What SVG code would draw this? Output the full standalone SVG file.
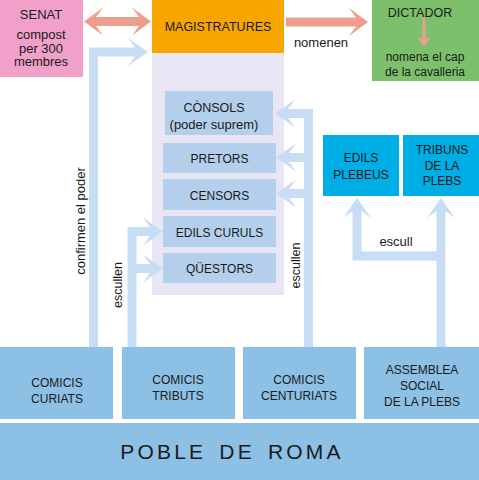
<svg xmlns="http://www.w3.org/2000/svg" width="479" height="480" viewBox="0 0 479 480">
<style>
text{font-family:"Liberation Sans",Arial,sans-serif;fill:#1a1a1a;text-anchor:middle}
.cap{font-size:12px}
.big{font-size:12.5px}
.low{font-size:13px}
.inner{fill:#b3cfeb}
.bottom{fill:#8cc1e5}
.cyan{fill:#00aee6}
.conn{fill:none;stroke:#c6ddf3;stroke-width:9;stroke-linejoin:miter}
.sal{fill:none;stroke:#ef9e8d;stroke-width:9}
</style>
<defs>
<marker id="hb" markerUnits="userSpaceOnUse" markerWidth="22" markerHeight="30" viewBox="0 0 22 30" refX="10" refY="15" orient="auto">
<path d="M22,15 L2,1 L9,10.5 L9,19.5 L2,29 Z" fill="#c6ddf3"/>
</marker>
<marker id="hs" markerUnits="userSpaceOnUse" markerWidth="22" markerHeight="30" viewBox="0 0 22 30" refX="10" refY="15" orient="auto-start-reverse">
<path d="M22,15 L3,1 L10,10.5 L10,19.5 L3,29 Z" fill="#ef9e8d"/>
</marker>
</defs>
<rect width="479" height="480" fill="#ffffff"/>

<g id="senat">
<rect x="0" y="0" width="83" height="77" fill="#f1a1c9"/>
<text class="low" x="41" y="19">SENAT</text>
<text class="low" x="41" y="39">compost</text>
<text class="low" x="41" y="52.5">per 300</text>
<text class="low" x="41" y="66">membres</text>
</g>

<g id="magistratures-panel">
<rect x="152" y="53" width="132" height="242" fill="#e8e5f4"/>
</g>

<g id="magistratures">
<rect x="152" y="0" width="132" height="53" fill="#f7a600"/>
<text class="big" x="218" y="31">MAGISTRATURES</text>
</g>

<g id="dictador">
<rect x="372" y="0" width="107" height="81" fill="#7dc06b"/>
<text class="big" x="420" y="17">DICTADOR</text>
<line x1="424" y1="18" x2="424" y2="41" stroke="#ef9e8d" stroke-width="3"/>
<path d="M424,47 L417,36 L424,40 L431,36 Z" fill="#ef9e8d"/>
<text class="cap" x="425" y="61">nomena el cap</text>
<text class="cap" x="425" y="76">de la cavalleria</text>
</g>

<g id="consols">
<rect class="inner" x="165" y="91" width="108" height="44"/>
<text class="big" x="214" y="112">CÒNSOLS</text>
<text class="low" x="214" y="129">(poder suprem)</text>
</g>
<g id="pretors">
<rect class="inner" x="163" y="143" width="113" height="30"/>
<text class="cap" x="219.5" y="163">PRETORS</text>
</g>
<g id="censors">
<rect class="inner" x="163" y="179" width="113" height="31"/>
<text class="cap" x="219.5" y="200">CENSORS</text>
</g>
<g id="edils-curuls">
<rect class="inner" x="163" y="216" width="113" height="31"/>
<text class="cap" x="219.5" y="237">EDILS CURULS</text>
</g>
<g id="questors">
<rect class="inner" x="163" y="253" width="113" height="30"/>
<text class="cap" x="219.5" y="273">QÜESTORS</text>
</g>

<g id="edils-plebeus">
<rect class="cyan" x="323" y="135" width="76" height="61"/>
<text class="cap" x="361" y="162">EDILS</text>
<text class="cap" x="361" y="179">PLEBEUS</text>
</g>
<g id="tribuns">
<rect class="cyan" x="403" y="135" width="76" height="61"/>
<text class="cap" x="442" y="154">TRIBUNS</text>
<text class="cap" x="442" y="170">DE LA</text>
<text class="cap" x="442" y="185">PLEBS</text>
</g>

<g id="connectors">
<path class="sal" d="M96,21.5 H139" marker-start="url(#hs)" marker-end="url(#hs)"/>
<path class="sal" d="M286,22 H356" marker-end="url(#hs)"/>
<text class="low" x="321" y="47">nomenen</text>

<path class="conn" d="M93.5,347 V52 H136" marker-end="url(#hb)"/>
<text class="low" transform="translate(85,221) rotate(-90)">confirmen el poder</text>

<path class="conn" d="M132,347 V231.5 H151" marker-end="url(#hb)"/>
<path class="conn" d="M132,268.5 H151" marker-end="url(#hb)"/>
<text class="big" transform="translate(122,285) rotate(-90)">escullen</text>

<path class="conn" d="M308.5,347 V113.5 H287" marker-end="url(#hb)"/>
<path class="conn" d="M308.5,157.5 H288" marker-end="url(#hb)"/>
<path class="conn" d="M308.5,193.5 H288" marker-end="url(#hb)"/>
<text class="big" transform="translate(300,265.5) rotate(-90)">escullen</text>

<path class="conn" d="M441,347 V210" marker-end="url(#hb)"/>
<path class="conn" d="M441,256 H357 V210" marker-end="url(#hb)"/>
<text class="low" x="396" y="246">escull</text>
</g>

<g id="comicis-curiats">
<rect class="bottom" x="0" y="347" width="113" height="72"/>
<text class="cap" x="57" y="387">COMICIS</text>
<text class="cap" x="57" y="403">CURIATS</text>
</g>
<g id="comicis-tributs">
<rect class="bottom" x="122" y="347" width="113" height="72"/>
<text class="cap" x="178" y="384">COMICIS</text>
<text class="cap" x="178" y="400">TRIBUTS</text>
</g>
<g id="comicis-centuriats">
<rect class="bottom" x="243" y="347" width="113" height="72"/>
<text class="cap" x="299" y="384">COMICIS</text>
<text class="cap" x="299" y="400">CENTURIATS</text>
</g>
<g id="assemblea">
<rect class="bottom" x="364" y="347" width="115" height="72"/>
<text class="cap" x="422" y="374">ASSEMBLEA</text>
<text class="cap" x="422" y="390">SOCIAL</text>
<text class="cap" x="422" y="406">DE LA PLEBS</text>
</g>
<g id="poble">
<rect class="bottom" x="0" y="423" width="479" height="57"/>
<text x="232" y="459" style="font-size:21px;letter-spacing:3.2px;word-spacing:4px">POBLE DE ROMA</text>
</g>
</svg>
